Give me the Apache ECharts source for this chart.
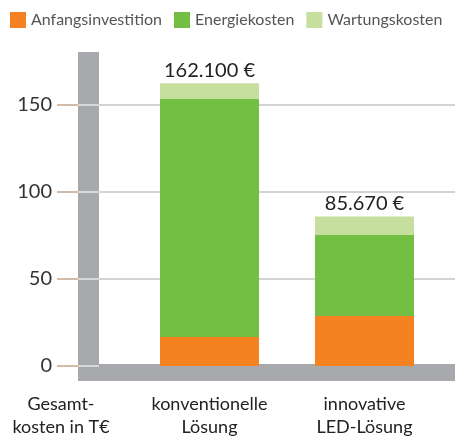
<!DOCTYPE html>
<html>
<head>
<meta charset="utf-8">
<script src="https://cdn.jsdelivr.net/npm/echarts@6/dist/echarts.min.js"></script>
<style>
	html, body { margin: 0; padding: 0; background: #fff; }
	#container { width: 455px; height: 437px; }
</style>
</head>
<body>
<div id="container"></div>
<script>
// Daten
var categories = ['konventionelle\nLösung', 'innovative\nLED-Lösung'];
var anfangsinvestition = [16.6, 28.7];
var energiekosten = [136.4, 46.4];
var wartungskosten = [9.1, 10.57];
var totals = [162.1, 85.67];
var yTicks = [0, 50, 100, 150];

var FONT = 'Lato';
var GRAY = '#a7a9ac';

// 162.1 -> "162.100 €"
function euro(v) {
	var n = Math.round(v * 1000);
	return String(n).replace(/\B(?=(\d{3})+(?!\d))/g, '.') + ' €';
}

var option = {
	animation: false,
	textStyle: { fontFamily: FONT },
	legend: {
		top: 12,
		left: 10,
		right: 0,
		padding: 0,
		itemWidth: 16,
		itemHeight: 16,
		itemGap: 12,
		icon: 'rect',
		textStyle: { fontSize: 16, color: '#555', fontFamily: FONT },
		data: ['Anfangsinvestition', 'Energiekosten', 'Wartungskosten']
	},
	// grid 0: Achsenrahmen, grid 1: Balken
	grid: [
		{ left: 78, right: 0, top: 52, bottom: 71, containLabel: false, outerBoundsMode: 'none' },
		{ left: 132, right: 13, top: 52, bottom: 71, containLabel: false, outerBoundsMode: 'none' }
	],
	xAxis: [
		{
			type: 'value',
			gridIndex: 0,
			position: 'bottom',
			min: 0,
			max: 1,
			offset: 6.5,
			splitLine: { show: false },
			axisTick: { show: false },
			axisLabel: { show: false },
			axisLine: { show: true, onZero: false, lineStyle: { color: GRAY, width: 17, cap: 'butt' } },
			z: 1
		},
		{
			type: 'category',
			gridIndex: 1,
			data: categories,
			axisLine: { show: false, onZero: false },
			axisTick: { show: false },
			axisLabel: {
				margin: 26.5,
				fontSize: 18,
				lineHeight: 23,
				color: '#222',
				fontFamily: FONT
			}
		}
	],
	yAxis: [
		{
			type: 'value',
			gridIndex: 0,
			position: 'left',
			min: 0,
			max: 180,
			name: 'Gesamt-\nkosten in T€',
			nameLocation: 'start',
			nameGap: 27,
			nameTextStyle: { fontSize: 18, lineHeight: 23, color: '#222', fontFamily: FONT, padding: [0, 34, 0, 0] },
			axisLine: { show: false, onZero: false },
			axisTick: { show: true, length: 21, customValues: yTicks, lineStyle: { color: '#c4a58c', width: 1.5 } },
			axisLabel: { customValues: yTicks, margin: 26, fontSize: 20, color: '#333', fontFamily: FONT },
			splitLine: { show: true, lineStyle: { color: '#c4c4c4', width: 1.5 } },
			z: 0
		},
		{
			type: 'value',
			gridIndex: 0,
			position: 'left',
			min: 0,
			max: 180,
			offset: -10.5,
			axisLine: { show: true, onZero: false, lineStyle: { color: GRAY, width: 21, cap: 'butt' } },
			axisTick: { show: false },
			axisLabel: { show: false },
			splitLine: { show: false },
			z: 1
		},
		{
			type: 'value',
			gridIndex: 0,
			position: 'left',
			min: 0,
			max: 180,
			offset: -21,
			axisLine: { show: false, onZero: false },
			axisTick: { show: true, length: 21, customValues: yTicks, lineStyle: { color: '#e8e8e8', width: 1.5 } },
			axisLabel: { show: false },
			splitLine: { show: false },
			z: 2
		},
		{
			type: 'value',
			gridIndex: 1,
			min: 0,
			max: 180,
			show: false
		}
	],
	series: [
		{
			name: 'Anfangsinvestition',
			type: 'bar',
			xAxisIndex: 1,
			yAxisIndex: 3,
			stack: 'kosten',
			barWidth: 99,
			z: 3,
			itemStyle: { color: '#f58220' },
			data: anfangsinvestition
		},
		{
			name: 'Energiekosten',
			type: 'bar',
			xAxisIndex: 1,
			yAxisIndex: 3,
			stack: 'kosten',
			barWidth: 99,
			z: 3,
			itemStyle: { color: '#72bf44' },
			data: energiekosten
		},
		{
			name: 'Wartungskosten',
			type: 'bar',
			xAxisIndex: 1,
			yAxisIndex: 3,
			stack: 'kosten',
			barWidth: 99,
			z: 3,
			itemStyle: { color: '#c6df9f' },
			label: {
				show: true,
				position: 'top',
				distance: 3,
				fontSize: 20,
				color: '#222',
				fontFamily: FONT,
				formatter: function (p) { return euro(totals[p.dataIndex]); }
			},
			data: wartungskosten
		}
	]
};

var myChart = echarts.init(document.getElementById('container'));
myChart.setOption(option);
</script>
</body>
</html>
